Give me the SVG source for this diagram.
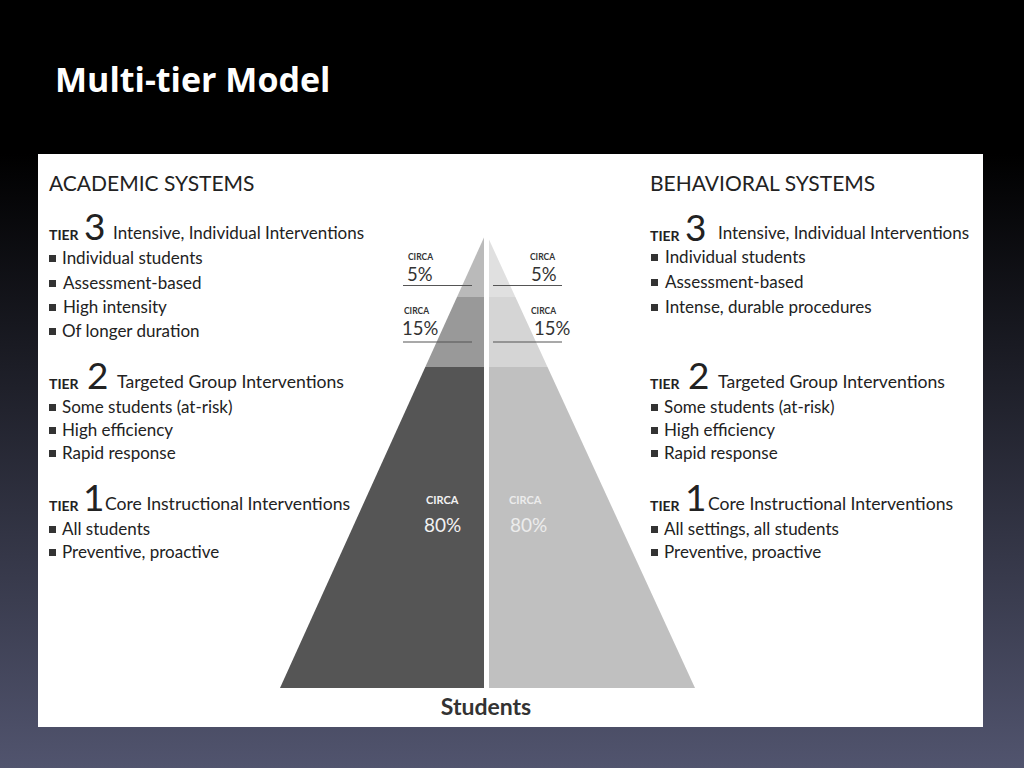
<svg xmlns="http://www.w3.org/2000/svg" width="1024" height="768" viewBox="0 0 1024 768">
<defs>
<linearGradient id="bg" x1="0" y1="0" x2="0" y2="1">
<stop offset="0" stop-color="#000000"/>
<stop offset="0.2" stop-color="#000000"/>
<stop offset="1" stop-color="#51546e"/>
</linearGradient>
<style>
.t{font-family:Lato,"Liberation Sans",sans-serif;fill:#222;}
.h{font-size:21px;}
.tier{font-size:14px;font-weight:bold;}
.num{font-size:37px;}
.lbl{font-size:17px;}
.b{font-size:17px;}
.sq{fill:#333;}
.circa{font-family:Lato,"Liberation Sans",sans-serif;font-weight:bold;font-size:8.5px;fill:#333;}
.pct{font-family:Lato,"Liberation Sans",sans-serif;font-size:18.5px;fill:#333;}
.ln{stroke:#555;stroke-width:1.2;}
</style>
</defs>
<rect x="0" y="0" width="1024" height="768" fill="url(#bg)"/>
<text x="55" y="92" font-family="'Open Sans','Liberation Sans',sans-serif" font-weight="bold" font-size="34" fill="#ffffff">Multi-tier Model</text>
<rect x="38" y="154" width="945" height="573" fill="#ffffff"/>

<g id="pyramid">
<polygon points="486,233 457,297 486,297" fill="#bababa"/>
<polygon points="457,297 425.3,367 486,367 486,297" fill="#999999"/>
<polygon points="425.3,367 280,688 486,688 486,367" fill="#555555"/>
<polygon points="486,233 515.4,297 486,297" fill="#e0e0e0"/>
<polygon points="515.4,297 547.5,367 486,367 486,297" fill="#d5d5d5"/>
<polygon points="547.5,367 695,688 486,688 486,367" fill="#c0c0c0"/>
<line x1="486.5" y1="228" x2="486.5" y2="690" stroke="#ffffff" stroke-width="5"/>
</g>

<g id="connectors">
<line class="ln" x1="403" y1="285.5" x2="472" y2="285.5"/>
<line class="ln" x1="493" y1="285.5" x2="562" y2="285.5"/>
<line class="ln" x1="403" y1="342" x2="472" y2="342"/>
<line class="ln" x1="493" y1="342" x2="562" y2="342"/>
</g>

<g id="pct-labels">
<text class="circa" x="408" y="260">CIRCA</text>
<text class="pct" x="407" y="281">5%</text>
<text class="circa" x="530" y="260">CIRCA</text>
<text class="pct" x="531" y="281">5%</text>
<text class="circa" x="404" y="314">CIRCA</text>
<text class="pct" x="402" y="335">15%</text>
<text class="circa" x="531" y="314">CIRCA</text>
<text class="pct" x="534" y="335">15%</text>
<text class="circa" x="426" y="504" style="font-size:11px;fill:#f2f2f2">CIRCA</text>
<text class="pct" x="424" y="532" style="font-size:19px;fill:#f2f2f2">80%</text>
<text class="circa" x="509" y="504" style="font-size:11px;fill:#ececec">CIRCA</text>
<text class="pct" x="510" y="532" style="font-size:19px;fill:#ececec">80%</text>
<text x="486" y="715" text-anchor="middle" font-family="Lato,'Liberation Sans',sans-serif" font-weight="bold" font-size="23" fill="#333">Students</text>
</g>

<g id="academic">
<text class="t h" x="49" y="191">ACADEMIC SYSTEMS</text>
<g id="academic-tier3">
<text class="t tier" x="49" y="240">TIER</text>
<text class="t num" x="84" y="240">3</text>
<text class="t lbl" x="113" y="239">Intensive, Individual Interventions</text>
<rect class="sq" x="49" y="255" width="7" height="7"/><text class="t b" x="62" y="264">Individual students</text>
<rect class="sq" x="49" y="280" width="7" height="7"/><text class="t b" x="63" y="289">Assessment-based</text>
<rect class="sq" x="49" y="304" width="7" height="7"/><text class="t b" x="63" y="313">High intensity</text>
<rect class="sq" x="49" y="328" width="7" height="7"/><text class="t b" x="62" y="337">Of longer duration</text>
</g>
<g id="academic-tier2">
<text class="t tier" x="49" y="389">TIER</text>
<text class="t num" x="87" y="389">2</text>
<text class="t lbl" x="117" y="388" style="font-size:17.6px">Targeted Group Interventions</text>
<rect class="sq" x="49" y="404" width="7" height="7"/><text class="t b" x="62" y="413">Some students (at-risk)</text>
<rect class="sq" x="49" y="427" width="7" height="7"/><text class="t b" x="62" y="436">High efficiency</text>
<rect class="sq" x="49" y="450" width="7" height="7"/><text class="t b" x="62" y="459">Rapid response</text>
</g>
<g id="academic-tier1">
<text class="t tier" x="49" y="511">TIER</text>
<text class="t num" x="83" y="511">1</text>
<text class="t lbl" x="105" y="510" style="font-size:17.6px">Core Instructional Interventions</text>
<rect class="sq" x="49" y="526" width="7" height="7"/><text class="t b" x="62" y="535">All students</text>
<rect class="sq" x="49" y="549" width="7" height="7"/><text class="t b" x="62" y="558">Preventive, proactive</text>
</g>
</g>

<g id="behavioral">
<text class="t h" x="650" y="191">BEHAVIORAL SYSTEMS</text>
<g id="behavioral-tier3">
<text class="t tier" x="650" y="241">TIER</text>
<text class="t num" x="685" y="241">3</text>
<text class="t lbl" x="718" y="239">Intensive, Individual Interventions</text>
<rect class="sq" x="651" y="254" width="7" height="7"/><text class="t b" x="665" y="263">Individual students</text>
<rect class="sq" x="651" y="279" width="7" height="7"/><text class="t b" x="665" y="288">Assessment-based</text>
<rect class="sq" x="651" y="304" width="7" height="7"/><text class="t b" x="665" y="313">Intense, durable procedures</text>
</g>
<g id="behavioral-tier2">
<text class="t tier" x="650" y="389">TIER</text>
<text class="t num" x="688" y="389">2</text>
<text class="t lbl" x="718" y="388" style="font-size:17.6px">Targeted Group Interventions</text>
<rect class="sq" x="651" y="404" width="7" height="7"/><text class="t b" x="664" y="413">Some students (at-risk)</text>
<rect class="sq" x="651" y="427" width="7" height="7"/><text class="t b" x="664" y="436">High efficiency</text>
<rect class="sq" x="651" y="450" width="7" height="7"/><text class="t b" x="664" y="459">Rapid response</text>
</g>
<g id="behavioral-tier1">
<text class="t tier" x="650" y="511">TIER</text>
<text class="t num" x="685" y="511">1</text>
<text class="t lbl" x="708" y="510" style="font-size:17.6px">Core Instructional Interventions</text>
<rect class="sq" x="651" y="526" width="7" height="7"/><text class="t b" x="664" y="535">All settings, all students</text>
<rect class="sq" x="651" y="549" width="7" height="7"/><text class="t b" x="664" y="558">Preventive, proactive</text>
</g>
</g>
</svg>
